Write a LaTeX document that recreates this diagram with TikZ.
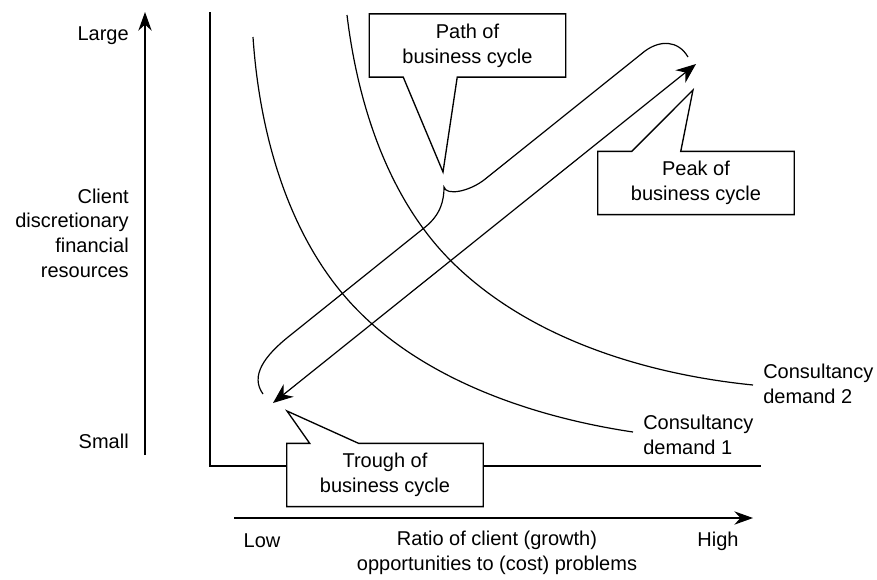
\documentclass[tikz,border=0pt]{standalone}
\usepackage{fontspec}
\setmainfont{Liberation Sans}
\usetikzlibrary{arrows.meta,calc}

\begin{document}
\begin{tikzpicture}[x=0.75pt,y=-0.75pt,
  every node/.style={font=\fontsize{15}{18.5}\selectfont, inner sep=0pt},
  txt/.style={align=center},
  axisline/.style={line width=1pt},
  demand/.style={line width=0.9pt},
  callout/.style={draw, line width=1pt, fill=white, line join=miter},
  cyclearrow/.style={line width=0.9pt, {Stealth[length=15pt,width=12pt]}-{Stealth[length=15pt,width=12pt]}},
  axisarrow/.style={line width=1pt, -{Stealth[length=14pt,width=10pt]}},
  box/.style={minimum width=147pt, minimum height=47pt}
]
\useasboundingbox (0,0) rectangle (877,579);

% vertical axis: client resources
\coordinate (ybot) at (145,455);
\coordinate (ytop) at (145,12);
\draw[axisarrow] (ybot) -- (ytop);
\node[anchor=east] (large) at (129,36) {Large};
\node[anchor=east, align=right] (yname) at (129,233) {Client\\discretionary\\financial\\resources};
\node[anchor=east] (small) at (129,441) {Small};

% horizontal axis: ratio of opportunities to problems
\coordinate (xleft) at (234,518);
\coordinate (xright) at (753,518);
\draw[axisarrow] (xleft) -- (xright);
\node (low) at (262,541) {Low};
\node (high) at (718,541) {High};
\node[txt] (xname) at (497,553) {Ratio of client (growth)\\opportunities to (cost) problems};

% plot frame
\coordinate (ftop) at (210,12);
\coordinate (fcorner) at (210,466);
\coordinate (fright) at (761,466);
\draw[axisline] (ftop) -- (fcorner) -- (fright);

% demand curves (two smooth cubic pieces each)
\draw[demand] (253,37) .. controls (259,127) and (284.4,223.7) .. (342,293)
  .. controls (410.5,375.4) and (527.2,416.2) .. (633,432);
\draw[demand] (347,15) .. controls (357.7,104) and (388,198) .. (451,261)
  .. controls (528,338) and (644.5,374.1) .. (753,385);
\node[anchor=west, align=left] (d1) at (643,435) {Consultancy\\demand 1};
\node[anchor=west, align=left] (d2) at (763,384) {Consultancy\\demand 2};

% business cycle path: brace and two-way arrow
\coordinate (trough) at (273,403);
\coordinate (peak) at (696,64);
\draw[demand] (263,394) .. controls (250,376) and (264,356) .. (290,335.5)
  -- (425,227.2) .. controls (441,214.4) and (444,200) .. (444,187)
  .. controls (446,196) and (469.4,191.7) .. (485,179.2)
  -- (645,51) .. controls (660,40) and (678,40) .. (688,57);
\draw[cyclearrow] (trough) -- (peak);

% callout: path of business cycle
\node[box] (pathbox) at (467.5,45.5) {};
\coordinate (pathtip) at (443,172);
\draw[callout] (pathbox.north west) -- (pathbox.north east) -- (pathbox.south east)
  -- ($(pathbox.south west)+(88,0)$) -- (pathtip) -- ($(pathbox.south west)+(34,0)$)
  -- (pathbox.south west) -- cycle;
\node[txt] (pathtext) at (pathbox.center) {Path of\\business cycle};

% callout: peak of business cycle
\node[box] (peakbox) at (696,183) {};
\coordinate (peaktip) at (693,90);
\draw[callout] (peakbox.north west) -- ($(peakbox.north west)+(34,0)$) -- (peaktip)
  -- ($(peakbox.north west)+(83,0)$) -- (peakbox.north east) -- (peakbox.south east)
  -- (peakbox.south west) -- cycle;
\node[txt] (peaktext) at (peakbox.center) {Peak of\\business cycle};

% callout: trough of business cycle
\node[box] (troughbox) at (385,475) {};
\coordinate (troughtip) at (287,411);
\draw[callout] (troughbox.north west) -- ($(troughbox.north west)+(23,0)$) -- (troughtip)
  -- ($(troughbox.north west)+(72,0)$) -- (troughbox.north east) -- (troughbox.south east)
  -- (troughbox.south west) -- cycle;
\node[txt] (troughtext) at (troughbox.center) {Trough of\\business cycle};
\end{tikzpicture}
\end{document}
